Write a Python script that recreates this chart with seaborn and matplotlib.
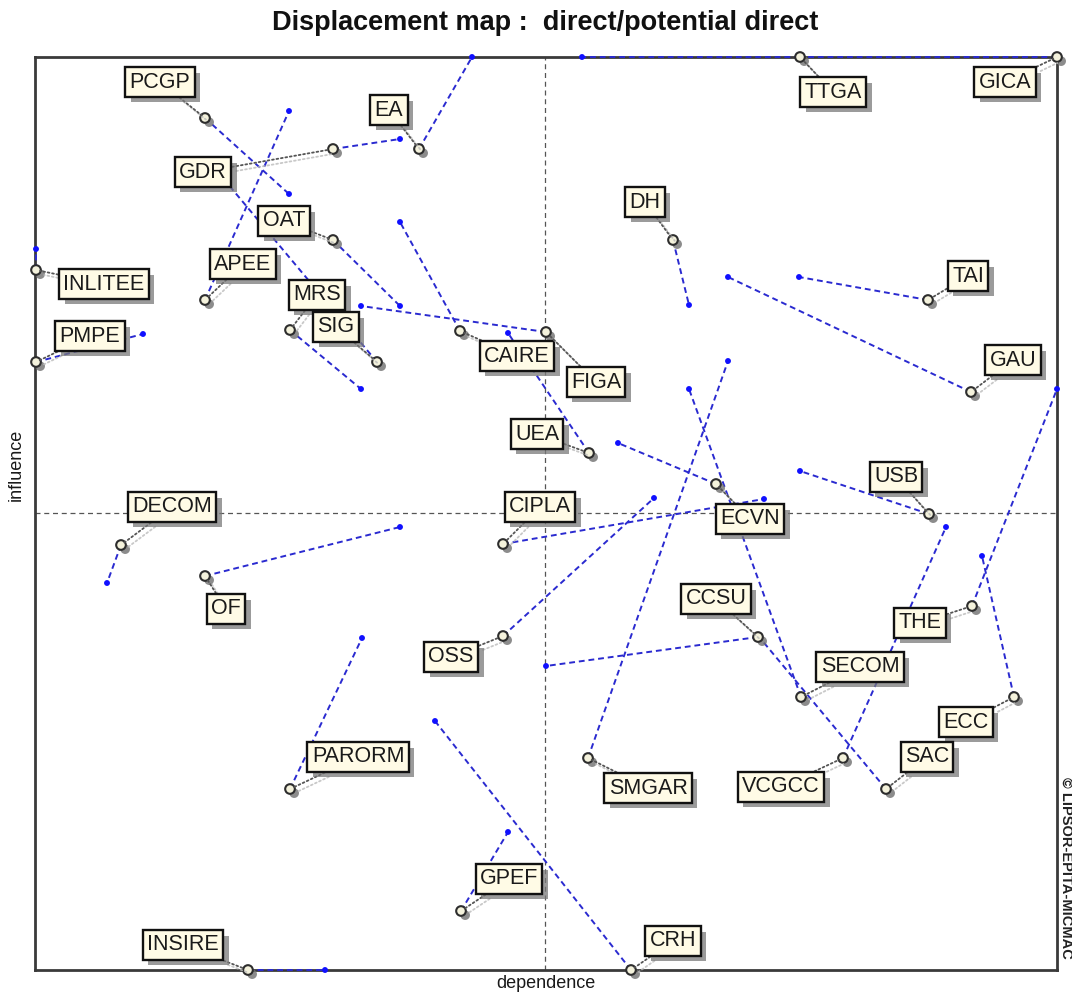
import matplotlib
matplotlib.use("Agg")
import matplotlib.pyplot as plt
import matplotlib.patheffects as pe
import seaborn as sns
import pandas as pd

# ---------------- data (dependence / influence units) ----------------
variables = ["PCGP", "EA", "GDR", "APEE", "OAT", "MRS", "SIG", "INLITEE", "PMPE",
             "CAIRE", "FIGA", "UEA", "CIPLA", "OSS", "DH", "TAI", "GAU", "TTGA",
             "GICA", "USB", "ECVN", "CCSU", "SECOM", "SMGAR", "VCGCC", "THE",
             "ECC", "SAC", "DECOM", "OF", "PARORM", "GPEF", "CRH", "INSIRE"]

# direct classification (open circles)
direct_dep = [170, 384, 298, 170, 298, 255, 342, 1, 1,
              425, 511, 554, 468, 468, 638, 893, 936, 765,
              1022, 894, 681, 723, 766, 553, 808, 937,
              979, 851, 86, 170, 255, 426, 596, 213]
direct_inf = [852, 821, 821, 670, 730, 640, 608, 700, 608,
              639, 638, 517, 426, 334, 730, 670, 578, 913,
              913, 456, 486, 333, 273, 212, 212, 364,
              273, 181, 425, 394, 181, 59, 0, 0]

# potential direct classification (blue dots)
potential_dep = [254, 437, 365, 254, 365, 326, 187, 1, 108,
                 365, 326, 473, 729, 619, 654, 764, 693, 547,
                 765, 765, 583, 511, 654, 693, 911, 1022,
                 947, 725, 72, 365, 327, 473, 400, 290]
potential_inf = [776, 913, 831, 859, 664, 581, 793, 721, 636,
                 748, 664, 637, 471, 472, 665, 693, 693, 913,
                 913, 499, 527, 304, 581, 609, 443, 581,
                 414, 332, 387, 443, 332, 138, 249, 0]

# layout: label offsets from the direct point (pixels)
label_dx = [-45, -30, -130, 38, -49, 27, -41, 68, 54,
            57, 50, -52, 37, -52, -28, 40, 42, 33,
            -52, -33, 34, -42, 59, 60, -62, -52,
            -48, 41, 51, 21, 68, 48, 42, -65]
label_dy = [36, 39, -23, 36, 19, 35, 35, -14, 26,
            -25, -50, 19, 37, -21, 38, 24, 32, -35,
            -25, 37, -35, 38, 30, -30, -29, -17,
            -25, 32, 38, -33, 32, 32, 29, 25]

dep_min, dep_max = 0, 1022
inf_min, inf_max = 0, 913
dep_mid, inf_mid = 510, 457

# ---------------- frames ----------------
pts = pd.DataFrame({"variable": variables,
                    "dep_d": direct_dep, "inf_d": direct_inf,
                    "dep_p": potential_dep, "inf_p": potential_inf})
long = pd.concat([
    pd.DataFrame({"variable": variables, "dependence": direct_dep,
                  "influence": direct_inf, "order": 0}),
    pd.DataFrame({"variable": variables, "dependence": potential_dep,
                  "influence": potential_inf, "order": 1}),
]).sort_values(["variable", "order"]).reset_index(drop=True)

# ---------------- figure ----------------
sns.set_theme(style="white")
plt.rcParams["font.family"] = ["Liberation Sans", "DejaVu Sans"]

W, H = 1072, 998
fig = plt.figure(figsize=(W / 100, H / 100), dpi=100)
ax = fig.add_axes([35 / W, (H - 970) / H, (1057 - 35) / W, (970 - 57) / H])
ax.set_xlim(dep_min, dep_max)
ax.set_ylim(inf_min, inf_max)
ax.set_xticks([])
ax.set_yticks([])
for s in ax.spines.values():
    s.set_color("#3a3a3a")
    s.set_linewidth(2)
    s.set_zorder(1)

# centre lines
ax.axvline(dep_mid, color="#555555", lw=0.9, ls=(0, (4, 3)), zorder=1)
ax.axhline(inf_mid, color="#555555", lw=0.9, ls=(0, (4, 3)), zorder=1)

# displacement lines
sns.lineplot(data=long, x="dependence", y="influence", units="variable",
             estimator=None, sort=False, color="#2a2ad0", lw=1.4,
             linestyle=(0, (3, 2)), ax=ax, zorder=2, legend=False)
for l in ax.lines:
    l.set_clip_on(False)

# potential points (blue dots)
sns.scatterplot(data=pts, x="dep_p", y="inf_p", color="#1010ff", s=18,
                edgecolor="none", ax=ax, zorder=3, legend=False, clip_on=False)

# direct points (open circles with shadow)
sns.scatterplot(data=pts, x="dep_d", y="inf_d", color="#f4f2dc", s=48,
                edgecolor="#2d2d2d", linewidth=1.5, ax=ax, zorder=4,
                legend=False, clip_on=False)
ax.collections[-1].set_path_effects([
    pe.SimplePatchShadow(offset=(3, -3), shadow_rgbFace="#707070", alpha=0.8),
    pe.Normal()])

# labels
for name, x, y, dx, dy in zip(variables, direct_dep, direct_inf, label_dx, label_dy):
    ann = ax.annotate(
        name, xy=(x, y), xytext=(dx, dy), textcoords="offset pixels",
        ha="center", va="center", fontsize=15.5, color="#1a1a1a",
        zorder=6, annotation_clip=False,
        bbox=dict(boxstyle="square,pad=0.2", fc="#fffbe6", ec="#111111", lw=1.7),
        arrowprops=dict(arrowstyle="-", color="#555555", lw=1.3,
                        linestyle=(0, (1, 1.5)), shrinkA=0, shrinkB=3,
                        path_effects=[pe.SimpleLineShadow(offset=(3, -3), shadow_color="#bbbbbb", alpha=0.8),
                                      pe.Normal()]))
    ann.get_bbox_patch().set_path_effects([
        pe.SimplePatchShadow(offset=(4, -4), shadow_rgbFace="#7a7a7a", alpha=0.75),
        pe.Normal()])

# axis labels
ax.set_xlabel("")
ax.set_ylabel("")
ax.text(0.5, -0.005, "dependence", transform=ax.transAxes, ha="center", va="top",
        fontsize=13, color="#1a1a1a")
ax.text(-0.018, (970 - 465) / 913, "influence", transform=ax.transAxes,
        rotation=90, ha="center", va="center", fontsize=13, color="#1a1a1a")

fig.text(545 / W, 1 - 23 / H, "Displacement map :  direct/potential direct",
         ha="center", va="center", fontsize=19.5, fontweight="bold", color="#111111")
fig.text(1066 / W, 1 - 868 / H, "© LIPSOR-EPITA-MICMAC", rotation=270,
         ha="center", va="center", fontsize=10.5, fontweight="bold", color="#222222")

fig.savefig("out.png", dpi=100)
